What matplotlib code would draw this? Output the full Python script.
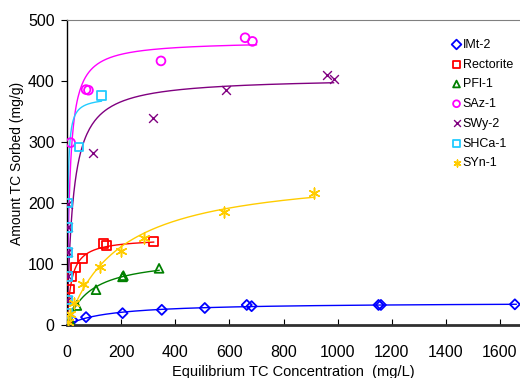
import numpy as np
import matplotlib
matplotlib.use("Agg")
import matplotlib.pyplot as plt

plt.rcParams['font.family'] = ['Liberation Sans', 'DejaVu Sans']

# measured points (Ce mg/L, q mg/g)
imt_x = [2, 7, 20, 70, 205, 350, 509, 664, 682, 1151, 1160, 1655]
imt_y = [1, 4, 8, 13, 19.5, 25, 28, 33, 31, 33, 33, 34]

rec_x = [2, 11, 17, 30, 58, 135, 146, 320]
rec_y = [5, 59, 79, 95, 109, 134, 131, 137]

pfl_x = [9, 36, 107, 205, 208, 340]
pfl_y = [9, 32, 58, 79, 81, 93]

saz_x = [13, 70, 79, 347, 658, 685]
saz_y = [299, 386, 385, 433, 471, 465]

swy_x = [3, 3, 3, 3, 3, 97, 319, 586, 960, 985]
swy_y = [41, 80, 119, 160, 199, 282, 339, 385, 410, 403]

shc_x = [1, 1, 1, 2, 2, 2, 44, 127]
shc_y = [19, 41, 80, 119, 160, 200, 292, 376]

syn_x = [2, 10, 26, 58, 120, 198, 286, 580, 914]
syn_y = [5, 18, 36, 68, 96, 121, 143, 185, 216]

# Langmuir fit parameters: (Qmax, KL, last Ce)
imt_fit = (37.3, 0.0064, 1660)
rec_fit = (142.9, 0.062, 320)
pfl_fit = (112, 0.0119, 340)
saz_fit = (466, 0.10, 700)
swy_fit = (406, 0.046, 985)
shc_fit = (374.5, 0.384, 127)
syn_fit = (254.6, 0.0051, 914)

labels = ["IMt-2", "Rectorite", "PFl-1", "SAz-1", "SWy-2", "SHCa-1", "SYn-1"]
colors = ["#0000ff", "#ff0000", "#008000", "#ff00ff", "#800080", "#22ccff", "#ffcc00"]
markers = ["D", "s", "^", "o", "x", "s", (6, 2, 0)]

series = [
    (imt_x, imt_y, imt_fit),
    (rec_x, rec_y, rec_fit),
    (pfl_x, pfl_y, pfl_fit),
    (saz_x, saz_y, saz_fit),
    (swy_x, swy_y, swy_fit),
    (shc_x, shc_y, shc_fit),
    (syn_x, syn_y, syn_fit),
]

fig = plt.figure(figsize=(5.2, 3.78), dpi=100)
ax = fig.add_axes([0.129, 0.140, 0.871, 0.807])

for (xs, ys, fit), lab, col, mk in zip(series, labels, colors, markers):
    qm, kl, cmax = fit
    c = np.concatenate([np.linspace(0, 20, 80), np.linspace(20, cmax, 200)])
    c = c[c <= cmax]
    ax.plot(c, qm * kl * c / (1 + kl * c), color=col, lw=1.0, zorder=2)
    if mk == "x":
        ax.scatter(xs, ys, marker=mk, s=40, color=col, linewidths=1.0,
                   label=lab, zorder=3)
    elif mk == (6, 2, 0):
        ax.scatter(xs, ys, marker=mk, s=60, color=col, linewidths=1.1,
                   label=lab, zorder=3)
    else:
        sz = 26 if mk == "D" else 40
        ax.scatter(xs, ys, marker=mk, s=sz, facecolors="none", edgecolors=col,
                   linewidths=1.3, label=lab, zorder=3)

ax.set_xlim(0, 1674)
ax.set_ylim(0, 500)
ax.set_xticks(range(0, 1601, 200))
ax.set_yticks(range(0, 501, 100))
ax.tick_params(axis="x", direction="in", length=4, labelsize=11.5, pad=14)
ax.tick_params(axis="y", direction="out", length=4, labelsize=11.5, pad=5)
ax.spines["right"].set_visible(False)
ax.spines["top"].set_color("#808080")
ax.spines["bottom"].set_color("#303030")
ax.spines["bottom"].set_linewidth(2)
ax.spines["left"].set_linewidth(1)

ax.set_xlabel("Equilibrium TC Concentration  (mg/L)", fontsize=10.5, labelpad=4)
ax.set_ylabel("Amount TC Sorbed (mg/g)", fontsize=10, labelpad=4)
ax.yaxis.set_label_coords(-0.095, 0.53)

leg = ax.legend(loc="upper left", bbox_to_anchor=(0.835, 0.955), frameon=False,
                fontsize=9, handletextpad=0.0, labelspacing=0.62,
                handlelength=1.0, borderaxespad=0)
for h in leg.legend_handles:
    h.set_sizes([24])

fig.savefig("out.png", dpi=100)
